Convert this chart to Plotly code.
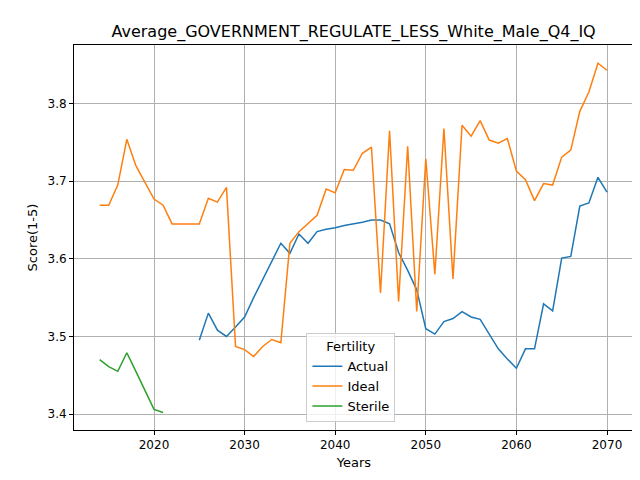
import plotly.graph_objects as go

# Data
ideal_years = list(range(2014, 2071))
ideal = [3.669, 3.669, 3.695, 3.754, 3.720, 3.698, 3.677, 3.669, 3.645, 3.645,
         3.645, 3.645, 3.678, 3.673, 3.692, 3.487, 3.483, 3.474, 3.487, 3.496,
         3.492, 3.620, 3.635, 3.646, 3.656, 3.690, 3.685, 3.715, 3.714, 3.736,
         3.744, 3.556, 3.765, 3.545, 3.745, 3.532, 3.729, 3.580, 3.768, 3.574,
         3.772, 3.758, 3.778, 3.753, 3.749, 3.755, 3.713, 3.702, 3.675, 3.697,
         3.695, 3.731, 3.740, 3.790, 3.815, 3.852, 3.843]

actual_years = list(range(2025, 2071))
actual = [3.495, 3.530, 3.508, 3.500, 3.512, 3.525, 3.550, 3.574, 3.597, 3.620,
          3.607, 3.632, 3.620, 3.635, 3.638, 3.640, 3.643, 3.645, 3.647, 3.650,
          3.650, 3.645, 3.608, 3.585, 3.560, 3.510, 3.503, 3.519, 3.523, 3.532,
          3.525, 3.522, 3.503, 3.484, 3.471, 3.459, 3.484, 3.484, 3.542, 3.533,
          3.601, 3.603, 3.668, 3.672, 3.705, 3.686]

sterile_years = list(range(2014, 2022))
sterile = [3.470, 3.461, 3.455, 3.479, 3.455, 3.431, 3.406, 3.402]

fig = go.Figure()
fig.add_trace(go.Scatter(x=actual_years, y=actual, mode="lines", name="Actual",
                         line=dict(color="#1f77b4", width=1.5)))
fig.add_trace(go.Scatter(x=ideal_years, y=ideal, mode="lines", name="Ideal",
                         line=dict(color="#ff7f0e", width=1.5)))
fig.add_trace(go.Scatter(x=sterile_years, y=sterile, mode="lines", name="Sterile",
                         line=dict(color="#2ca02c", width=1.5)))

axis_style = dict(showgrid=True, gridcolor="#b0b0b0", gridwidth=1,
                  showline=True, linecolor="black", mirror=True,
                  ticks="outside", ticklen=4, tickcolor="black",
                  zeroline=False, automargin=False,
                  tickfont=dict(size=12, color="black"))

fig.update_layout(
    width=640, height=480,
    margin=dict(l=66, r=14, t=37, b=58),
    paper_bgcolor="white", plot_bgcolor="white",
    font=dict(family="DejaVu Sans", color="black"),
    title=dict(text="Average_GOVERNMENT_REGULATE_LESS_White_Male_Q4_IQ",
               x=0.54, xanchor="center", y=0.952, yanchor="middle",
               font=dict(size=16)),
    xaxis=dict(title=dict(text="Years", font=dict(size=13), standoff=6),
               range=[2011.17, 2072.98], tickvals=[2020, 2030, 2040, 2050, 2060, 2070],
               **axis_style),
    yaxis=dict(title=dict(text="Score(1-5)", font=dict(size=13), standoff=6),
               range=[3.3794, 3.8755], tickvals=[3.4, 3.5, 3.6, 3.7, 3.8],
               tickformat=".1f", **axis_style),
    legend=dict(title=dict(text="Fertility", side="top center", font=dict(size=13)),
                x=0.415, y=0.02, xanchor="left", yanchor="bottom",
                bgcolor="rgba(255,255,255,0.8)", bordercolor="#cccccc", borderwidth=1,
                font=dict(size=13)),
)

fig.write_html("out.html")
